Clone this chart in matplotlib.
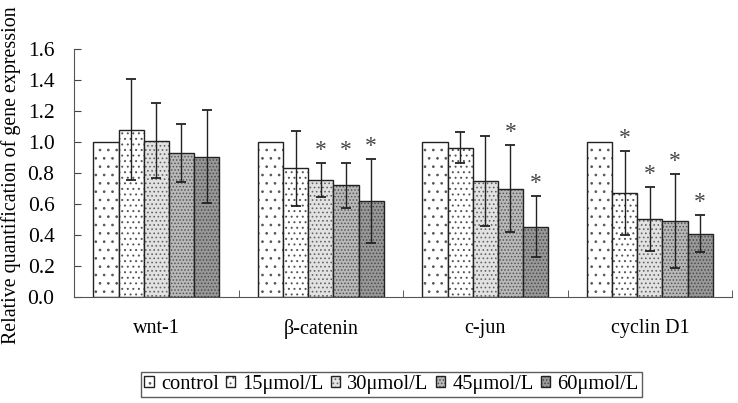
import matplotlib
matplotlib.use("Agg")
import matplotlib.pyplot as plt
import numpy as np

genes = ["wnt-1", "β-catenin", "c-jun", "cyclin D1"]
series = ["control", "15μmol/L", "30μmol/L", "45μmol/L", "60μmol/L"]
means = {
    "control":  [1.00, 1.00, 1.00, 1.00],
    "15μmol/L": [1.08, 0.83, 0.965, 0.67],
    "30μmol/L": [1.01, 0.755, 0.75, 0.505],
    "45μmol/L": [0.93, 0.72, 0.70, 0.49],
    "60μmol/L": [0.905, 0.62, 0.455, 0.41],
}
sds = {
    "control":  [0, 0, 0, 0],
    "15μmol/L": [0.325, 0.24, 0.10, 0.27],
    "30μmol/L": [0.24, 0.11, 0.29, 0.205],
    "45μmol/L": [0.185, 0.145, 0.28, 0.305],
    "60μmol/L": [0.30, 0.27, 0.195, 0.12],
}
signif = {
    "control":  [False, False, False, False],
    "15μmol/L": [False, False, False, True],
    "30μmol/L": [False, True, False, True],
    "45μmol/L": [False, True, True, True],
    "60μmol/L": [False, True, True, True],
}
yticks = [0.0, 0.2, 0.4, 0.6, 0.8, 1.0, 1.2, 1.4, 1.6]

plt.rcParams['font.family'] = ['Liberation Serif', 'DejaVu Serif']
plt.rcParams['hatch.linewidth'] = 0.7

faces = ['white', 'white', '#e2e2e2', '#b8b8b8', '#989898']
hatches = ['..', '...', '....', '.....', '.....']
hcolors = ['#555555', '#555555', '#666666', '#555555', '#4a4a4a']

fig = plt.figure(figsize=(7.38, 4.03), dpi=100)
ax = fig.add_axes([0.1003, 0.263, 0.8917, 0.615])

x = np.arange(len(genes)) + 0.5
w = 0.153
for i, s in enumerate(series):
    xs = x + (i - 2) * w
    bars = ax.bar(xs, means[s], width=w, facecolor=faces[i], edgecolor='#222222',
                  linewidth=1.0, hatch=hatches[i], label=s, zorder=2)
    for b in bars:
        b._hatch_color = matplotlib.colors.to_rgba(hcolors[i])
    if i > 0:
        ax.errorbar(xs, means[s], yerr=sds[s], fmt='none', ecolor='#222222',
                    elinewidth=1.0, capsize=3.4, capthick=1.3, zorder=3)
    for xi, m, e, sg in zip(xs, means[s], sds[s], signif[s]):
        if sg:
            ax.text(xi, m + e + 0.015, '*', ha='center', va='bottom',
                    fontsize=17, color='#444444')

ax.set_xlim(0, 4)
ax.set_ylim(0, 1.6)
ax.set_yticks(yticks)
ax.set_yticklabels([f"{v:.1f}" for v in yticks])
ax.set_xticks(x)
ax.set_xticklabels(genes)
ax.set_xticks([1, 2, 3, 4], minor=True)
ax.tick_params(axis='x', which='major', length=0, pad=16, labelsize=14.5)
ax.tick_params(axis='x', which='minor', direction='in', length=5, color='#444444')
ax.tick_params(axis='y', direction='in', length=5, labelsize=15.5, pad=14, color='#444444')
for sp in ['top', 'right']:
    ax.spines[sp].set_visible(False)
for sp in ['left', 'bottom']:
    ax.spines[sp].set_color('#555555')
ax.set_ylabel("Relative quantification of gene expression", fontsize=14.4)
ax.yaxis.set_label_coords(-0.08, 0.49)

leg = fig.legend(loc='lower center', bbox_to_anchor=(0.5305, 0.015), ncol=5,
                 fontsize=14.8, frameon=True, fancybox=False, edgecolor='#333333',
                 handlelength=0.45, handleheight=0.45, handletextpad=0.35,
                 columnspacing=0.35, borderpad=0.15, borderaxespad=0.0)
leg.get_frame().set_linewidth(1.0)

fig.savefig("out.png", dpi=100)
